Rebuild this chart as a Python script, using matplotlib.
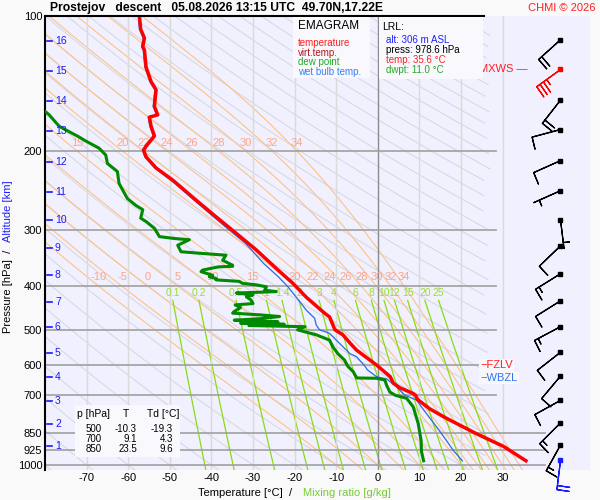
import numpy as np
import matplotlib
matplotlib.use("Agg")
import matplotlib.pyplot as plt
from matplotlib.patches import Rectangle
from matplotlib.ticker import NullLocator

plt.rcParams['font.family'] = ['Liberation Sans', 'DejaVu Sans']

# temperature profile [hPa], [°C]
pres_t = [978.6, 909, 850, 787, 750, 714, 700, 693, 673, 657, 636, 599, 555, 535, 513, 500,
          468, 459, 423, 394, 365, 332, 305, 280, 257, 232, 218, 206, 199, 195, 189, 185,
          176, 168, 166, 159, 146, 140, 130, 119, 117, 112, 107, 100]
temp = [35.6, 30.2, 23.5, 16.5, 12.5, 9.5, 9.1, 8.5, 5.3, 3.7, 3.0, -0.3, -5.1, -6.7, -8.4, -10.3,
        -11.6, -12.8, -17.2, -20.4, -24.4, -29.2, -34.0, -38.9, -43.7, -49.3, -53.3, -55.7, -56.3, -55.7, -54.5, -53.7,
        -54.5, -54.9, -52.9, -53.7, -53.3, -54.5, -55.7, -56.1, -56.5, -56.1, -57.0, -57.3]

# dew point profile
pres_td = [978.6, 934, 882, 808, 742, 710, 700, 688, 664, 647, 641, 640, 620, 603, 584, 565, 546, 527, 513, 500,
           492, 489, 486, 483, 480, 476, 472, 467, 463, 459, 455, 446, 440, 437, 429, 422, 418, 414, 411, 408,
           401, 397, 394, 390, 387, 384, 381, 378, 371, 368, 362, 361, 359, 350, 341, 338, 335, 324, 315, 313,
           310, 297, 287, 282, 270, 264, 255, 236, 222, 213, 204, 197, 189, 186, 181, 176, 166, 163, 158]
dwpt = [11.0, 10.5, 10.4, 9.7, 8.5, 6.9, 4.3, 2.9, 2.1, 1.7, -0.3, -5.1, -5.9, -7.2, -8.0, -9.6, -10.8, -11.6, -14.8, -19.3,
        -17.5, -31.0, -22.5, -33.0, -24.0, -34.5, -28.0, -23.6, -28.4, -34.9, -34.5, -33.0, -34.3, -30.0, -30.5, -31.6, -30.0, -34.0, -24.4, -27.2,
        -26.8, -29.2, -32.5, -33.3, -38.9, -38.9, -40.5, -39.7, -42.5, -42.1, -38.3, -34.9, -34.9, -37.3, -36.5, -42.1, -47.3, -48.1, -45.3, -48.9,
        -52.5, -53.7, -55.7, -57.0, -56.5, -58.2, -60.2, -62.2, -62.6, -65.0, -65.4, -67.0, -70.6, -71.8, -74.2, -76.6, -79.0, -80.0, -83.0]

# wet bulb temperature profile
pres_tw = [978.6, 927, 882, 822, 760, 717, 699, 670, 643, 636, 614, 604, 574, 565, 527, 509, 500, 488, 471, 452,
           437, 423, 401, 381, 356, 321, 295, 280, 257, 236, 218, 206, 199, 195, 189, 185, 176, 168, 166, 159,
           146, 140, 130, 119, 117, 112, 107, 100]
wetb = [20.3, 18.1, 16.5, 14.1, 11.3, 9.3, 6.5, 4.5, 2.1, -0.3, -2.5, -3.0, -5.1, -6.7, -10.0, -11.6, -14.0, -14.8, -15.2, -17.2,
        -18.4, -19.6, -21.6, -23.9, -27.4, -31.8, -36.6, -39.5, -44.2, -48.8, -53.6, -56.0, -56.6, -56.0, -54.8, -54.0, -54.8, -55.2, -53.2, -54.0,
        -53.6, -54.8, -56.0, -56.4, -56.8, -56.4, -57.3, -57.6]

# altitude marks
alt_km = [1, 2, 3, 4, 5, 6, 7, 8, 9, 10, 11, 12, 13, 14, 15, 16]
alt_p = [907, 810, 720, 637, 563, 493, 433.5, 377.5, 328.7, 284.7, 246.6, 211.4, 180.3, 154.6, 132.6, 113.5]

# wind
wind_p = [113, 131, 154, 179, 210, 245, 284, 325, 375, 431, 492, 561, 634, 718, 806, 903, 975]
wind_dir = [228, 234, 218, 255, 246, 246, 173, 226, 238, 238, 242, 232, 220, 241, 225, 209, 187]
wind_spd = [20, 35, 20, 10, 10, 5, 5, 10, 15, 10, 15, 10, 10, 10, 15, 15, 20]
wind_col = ['black', 'red'] + ['black'] * 14 + ['#1a1aff']

# diagram lines
isobars = [200, 300, 400, 500, 600, 700, 850, 925, 1000]
isotherms = [-70, -60, -50, -40, -30, -20, -10, 0, 10, 20, 30]
theta_dry = list(range(-80, 310, 10))
theta_w = [-10, -5, 0, 5, 10, 15, 20, 22, 24, 26, 28, 30, 32, 34]
theta_w_200 = [15, 20, 22, 24, 26, 28, 30, 32, 34]
mix_ratios = [0.1, 0.2, 0.5, 1, 1.4, 2, 3, 4, 6, 8, 10, 12, 15, 20, 25]

# table
table_p = [500, 700, 850]
table_t = [-10.3, 9.1, 23.5]
table_td = [-19.3, 4.3, 9.6]

Rd, cp, Lv, eps = 287.04, 1005.7, 2.501e6, 0.622


def sat_vp(tc):
    return 6.112 * np.exp(17.67 * tc / (tc + 243.5))


def dtdlnp(T, p):
    e = sat_vp(T - 273.15)
    rs = eps * e / (p - e)
    return (Rd * T + Lv * rs) / (cp + Lv ** 2 * rs * eps / (Rd * T ** 2))


def moist_line(thw, pgrid):
    T = thw + 273.15
    out = [T]
    for i in range(1, len(pgrid)):
        dl = np.log(pgrid[i]) - np.log(pgrid[i - 1])
        k1 = dtdlnp(T, pgrid[i - 1])
        k2 = dtdlnp(T + k1 * dl, pgrid[i])
        T = T + 0.5 * (k1 + k2) * dl
        out.append(T)
    return np.array(out) - 273.15


def dew_from_mix(w, p):
    e = w * p / (622.0 + w)
    a = np.log(e / 6.112)
    return 243.5 * a / (17.67 - a)


fig = plt.figure(figsize=(6, 5), dpi=100, facecolor='#f9f9f9')
W, H = 600, 500
ax = fig.add_axes([45 / W, 30 / H, 545 / W, 454 / H])
ax.set_facecolor('#f0f0fe')
ax.set_yscale('log')
ax.set_ylim(1026, 100)
ax.set_xlim(-80, 51)

pp = np.geomspace(100, 1030, 120)

# dry adiabats
for th in theta_dry:
    t = (th + 273.15) * (pp / 1000.0) ** 0.2857 - 273.15
    t = np.where(t > 27, np.nan, t)
    ax.plot(t, pp, color='#d6d6de', lw=0.7, zorder=1)

# moist adiabats
pup = np.geomspace(1000, 100, 200)
pdn = np.geomspace(1000, 1030, 6)
for thw in theta_w:
    tu = moist_line(thw, pup)
    td = moist_line(thw, pdn)
    ax.plot(np.r_[td[::-1], tu], np.r_[pdn[::-1], pup], color='#ffc080', lw=0.75, zorder=1)
    t400 = np.interp(np.log(400), np.log(pup[::-1]), tu[::-1])
    ax.text(t400, 392, str(thw), color='#ffa488', fontsize=8, ha='center', va='bottom', zorder=2)
    if thw in theta_w_200:
        t200 = np.interp(np.log(200), np.log(pup[::-1]), tu[::-1])
        ax.text(t200, 197, str(thw), color='#ffa488', fontsize=8, ha='center', va='bottom', zorder=2)

# mixing ratio lines
pm = np.geomspace(430, 1030, 20)
for w in mix_ratios:
    ax.plot(dew_from_mix(w, pm), pm, color='#88dd11', lw=0.9, zorder=1)
    ax.text(dew_from_mix(w, 430), 425, ('%g' % w), color='#99dd33', fontsize=7.5,
            ha='center', va='bottom', zorder=2)

# isotherms
for t in isotherms:
    ax.axvline(t, color='#8c8c8c' if t == 0 else '#dadada', lw=1, zorder=1.5)

# isobars
for p in isobars:
    xend = 40.2 if p >= 850 else 28.4
    ax.plot([-80, xend], [p, p], color='#a0a0a0', lw=1.2, zorder=1.6)
ax.plot([-80, 25.5], [100, 100], color='black', lw=1.5, zorder=6, clip_on=False)

# profiles
ax.plot(wetb, pres_tw, color='#2a6ae0', lw=0.9, zorder=4)
ax.plot(dwpt, pres_td, color='#008a00', lw=2.2, zorder=4)
ax.plot(temp, pres_t, color='#ff0000', lw=2.5, zorder=5)

# altitude
for km, p in zip(alt_km, alt_p):
    ax.plot([-79.6, -78.2], [p, p], color='#1a1aff', lw=1.2, zorder=6)
    ax.text(-77.6, p, str(km), color='#1a1aff', fontsize=7.5, va='center', ha='left', zorder=6)

# wind barbs
wd = np.deg2rad(wind_dir)
u = -np.array(wind_spd) * np.sin(wd)
v = -np.array(wind_spd) * np.cos(wd)
xb = np.full(len(wind_p), 43.9)
for c in set(wind_col):
    m = np.array([k == c for k in wind_col])
    ax.barbs(xb[m], np.array(wind_p)[m], u[m], v[m], color=c, length=6.5, linewidth=0.9,
             flip_barb=True, sizes=dict(width=0.02, height=0.42, spacing=0.14),
             zorder=6, clip_on=False)
    ax.plot(xb[m], np.array(wind_p)[m], 's', color=c, ms=2.5, zorder=7, clip_on=False)

ax.text(36.1, 131, 'MXWS \u2014', color='#ff2020', fontsize=8, ha='right', va='center', zorder=7)
ax.text(24.6, 600, '\u2212FZLV', color='#ff2020', fontsize=8, ha='left', va='center', zorder=7,
        bbox=dict(facecolor='#f7f7fd', edgecolor='none', pad=1))
ax.text(24.6, 640, '\u2212WBZL', color='#3377ee', fontsize=8, ha='left', va='center', zorder=7,
        bbox=dict(facecolor='#f7f7fd', edgecolor='none', pad=1))

# axes styling
for s in ['top', 'right', 'bottom']:
    ax.spines[s].set_visible(False)
ax.spines['left'].set_linewidth(1.5)
ax.spines['left'].set_color('black')
ax.set_yticks([100] + isobars)
ax.set_yticklabels([str(p) for p in [100] + isobars])
ax.yaxis.set_minor_locator(NullLocator())
ax.set_xticks(isotherms)
ax.set_xticklabels([str(t) for t in isotherms])
ax.tick_params(length=0, labelsize=8)
ax.tick_params(axis='x', pad=2)
ax.tick_params(axis='y', pad=2)


def ftext(x, y, s, **kw):
    return fig.text(x / W, 1 - y / H, s, **kw)


def fbox(x0, y0, x1, y1, **kw):
    fig.add_artist(Rectangle((x0 / W, 1 - y1 / H), (x1 - x0) / W, (y1 - y0) / H,
                             transform=fig.transFigure, **kw))


ftext(50, 8, 'Prostejov   descent   05.08.2026 13:15 UTC  49.70N,17.22E', fontsize=8.7,
      fontweight='bold', va='center', ha='left')
ftext(596, 8, 'CHMI \u00a9 2026', fontsize=8, color='#ff2020', va='center', ha='right')

# legend box
fbox(293, 17, 370, 78, facecolor='#f8f8fd', edgecolor='none')
ftext(298, 26, 'EMAGRAM', fontsize=8.5, va='center')
ftext(298, 43, 'temperature', fontsize=7, color='#ff2020', va='center')
ftext(298, 53, 'virt.temp.', fontsize=7, color='#b01818', va='center')
ftext(298, 62, 'dew point', fontsize=7, color='#22aa22', va='center')
ftext(298, 72, 'wet bulb temp.', fontsize=7, color='#3a80f0', va='center')

# lowest level box
fbox(379, 17, 483, 79, facecolor='#f8f8fd', edgecolor='none')
ftext(382, 27, 'LRL:', fontsize=7.5, va='center')
ftext(386, 40, 'alt: 306 m ASL', fontsize=7, color='#2020ff', va='center')
ftext(386, 50, 'press: 978.6 hPa', fontsize=7, va='center')
ftext(386, 60, 'temp: 35.6 \u00b0C', fontsize=7, color='#ff2020', va='center')
ftext(386, 70, 'dwpt: 11.0 \u00b0C', fontsize=7, color='#22aa22', va='center')

# table box
fbox(75, 405, 180, 457, facecolor='#f8f8fd', edgecolor='none')
ftext(77, 414, 'p [hPa]', fontsize=7.5, va='center')
ftext(126, 414, 'T', fontsize=7.5, va='center', ha='center')
ftext(147, 414, 'Td [\u00b0C]', fontsize=7.5, va='center')
for i, (p, t, td) in enumerate(zip(table_p, table_t, table_td)):
    y = 429 + 10 * i
    ftext(102, y, str(p), fontsize=7, va='center', ha='right')
    ftext(137, y, '%.1f' % t, fontsize=7, va='center', ha='right')
    ftext(173, y, '%.1f' % td, fontsize=7, va='center', ha='right')

# axis labels
ftext(198, 493, 'Temperature [\u00b0C]  /', fontsize=8, va='center', ha='left')
ftext(303, 493, 'Mixing ratio [g/kg]', fontsize=8, va='center', ha='left', color='#77cc33')
ftext(8, 333, 'Pressure [hPa]  /', fontsize=8, rotation=90, va='bottom', ha='center')
ftext(8, 242, 'Altitude [km]', fontsize=8, rotation=90, va='bottom', ha='center', color='#2020ff')

fig.savefig('out.png', dpi=100, facecolor=fig.get_facecolor())
